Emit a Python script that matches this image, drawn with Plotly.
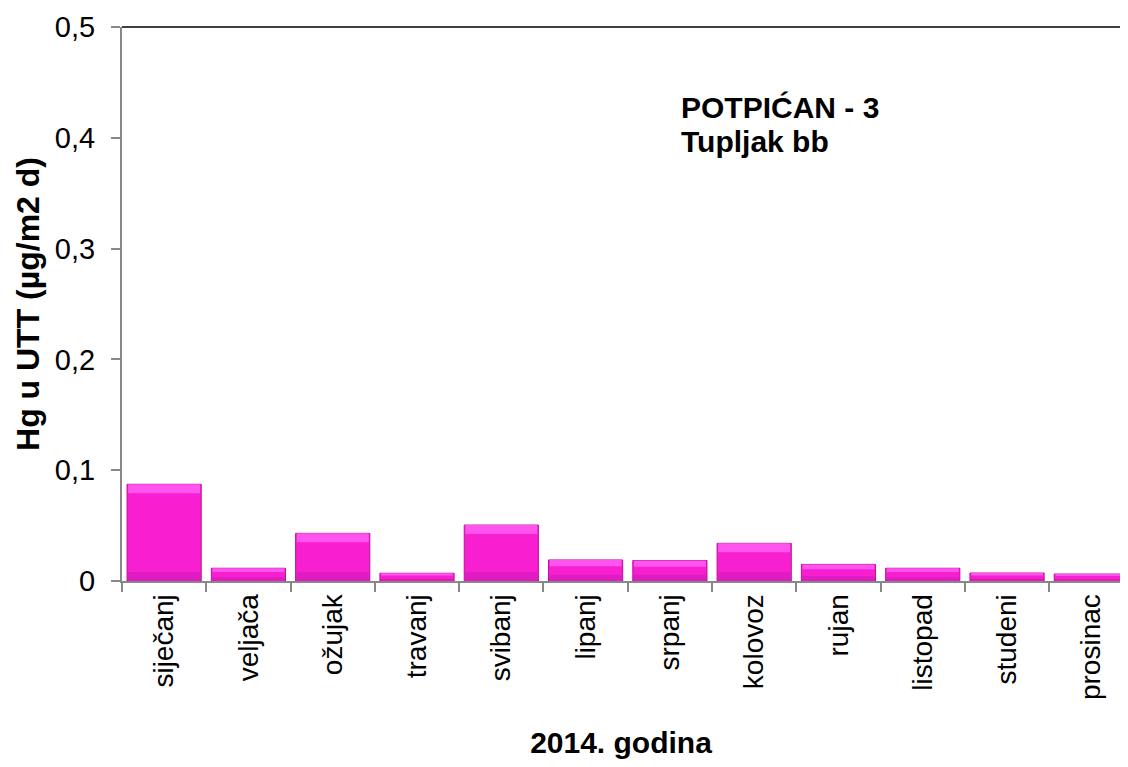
import plotly.graph_objects as go

months = ["siječanj", "veljača", "ožujak", "travanj", "svibanj", "lipanj",
          "srpanj", "kolovoz", "rujan", "listopad", "studeni", "prosinac"]
hg_values = [0.0873, 0.0115, 0.043, 0.007, 0.0505, 0.019,
             0.0185, 0.034, 0.015, 0.0115, 0.0072, 0.0063]
y_tickvals = [0, 0.1, 0.2, 0.3, 0.4, 0.5]
y_ticktext = ["0", "0,1", "0,2", "0,3", "0,4", "0,5"]
label_lines = ["<b>POTPIĆAN - 3</b>", "<b>Tupljak bb</b>"]

FONT = "Liberation Sans, Arial, sans-serif"
BW = 0.88

fig = go.Figure()
# main bar
fig.add_trace(go.Bar(x=months, y=hg_values, width=BW,
                     marker=dict(color="#F81FD0", line=dict(color="#B5129A", width=1)),
                     hoverinfo="x+y"))
# bevel: darker bottom strip
bot = [min(0.008, v * 0.3) for v in hg_values]
fig.add_trace(go.Bar(x=months, y=bot, base=[0] * len(bot), width=BW * 0.97,
                     marker=dict(color="#DE1CC0", line=dict(width=0)), hoverinfo="skip"))
# bevel: light top strip
top = [min(0.008, v * 0.3) for v in hg_values]
fig.add_trace(go.Bar(x=months, y=top, base=[v - t for v, t in zip(hg_values, top)],
                     width=BW * 0.97,
                     marker=dict(color="#FF55EE", line=dict(width=0)), hoverinfo="skip"))

annotations = []
for i, line in enumerate(label_lines):
    annotations.append(dict(text=line, xref="paper", yref="paper",
                            x=0.558, y=0.854 - 0.06 * i, xanchor="left", yanchor="middle",
                            align="left", showarrow=False,
                            font=dict(size=30, family=FONT, color="black")))

fig.update_layout(
    width=1112, height=751,
    margin=dict(l=114, r=0, t=19, b=178),
    plot_bgcolor="white", paper_bgcolor="white",
    barmode="overlay", showlegend=False,
    font=dict(family=FONT, color="black"),
    xaxis=dict(range=[-0.5, 11.34], showline=True, linecolor="#888888", linewidth=2,
               ticks="outside", tickson="boundaries", ticklen=9, tickcolor="#888888",
               tickwidth=2, tickangle=-90, tickfont=dict(size=28, family=FONT),
               title=dict(text="<b>2014. godina</b>", font=dict(size=30, family=FONT),
                          standoff=36),
               showgrid=False, zeroline=False),
    yaxis=dict(range=[0, 0.5], tickvals=y_tickvals, ticktext=y_ticktext,
               showline=True, linecolor="#888888", linewidth=2,
               ticks="outside", ticklen=9, tickcolor="#888888", tickwidth=2,
               tickfont=dict(size=29, family=FONT), ticklabelstandoff=10,
               title=dict(text="<b>Hg u UTT (µg/m2 d)</b>", font=dict(size=32, family=FONT),
                          standoff=6),
               showgrid=False, zeroline=False),
    shapes=[dict(type="line", xref="paper", yref="paper", x0=0, x1=1, y0=1, y1=1,
                 line=dict(color="black", width=1.5))],
    annotations=annotations,
)

fig.write_html("out.html")
